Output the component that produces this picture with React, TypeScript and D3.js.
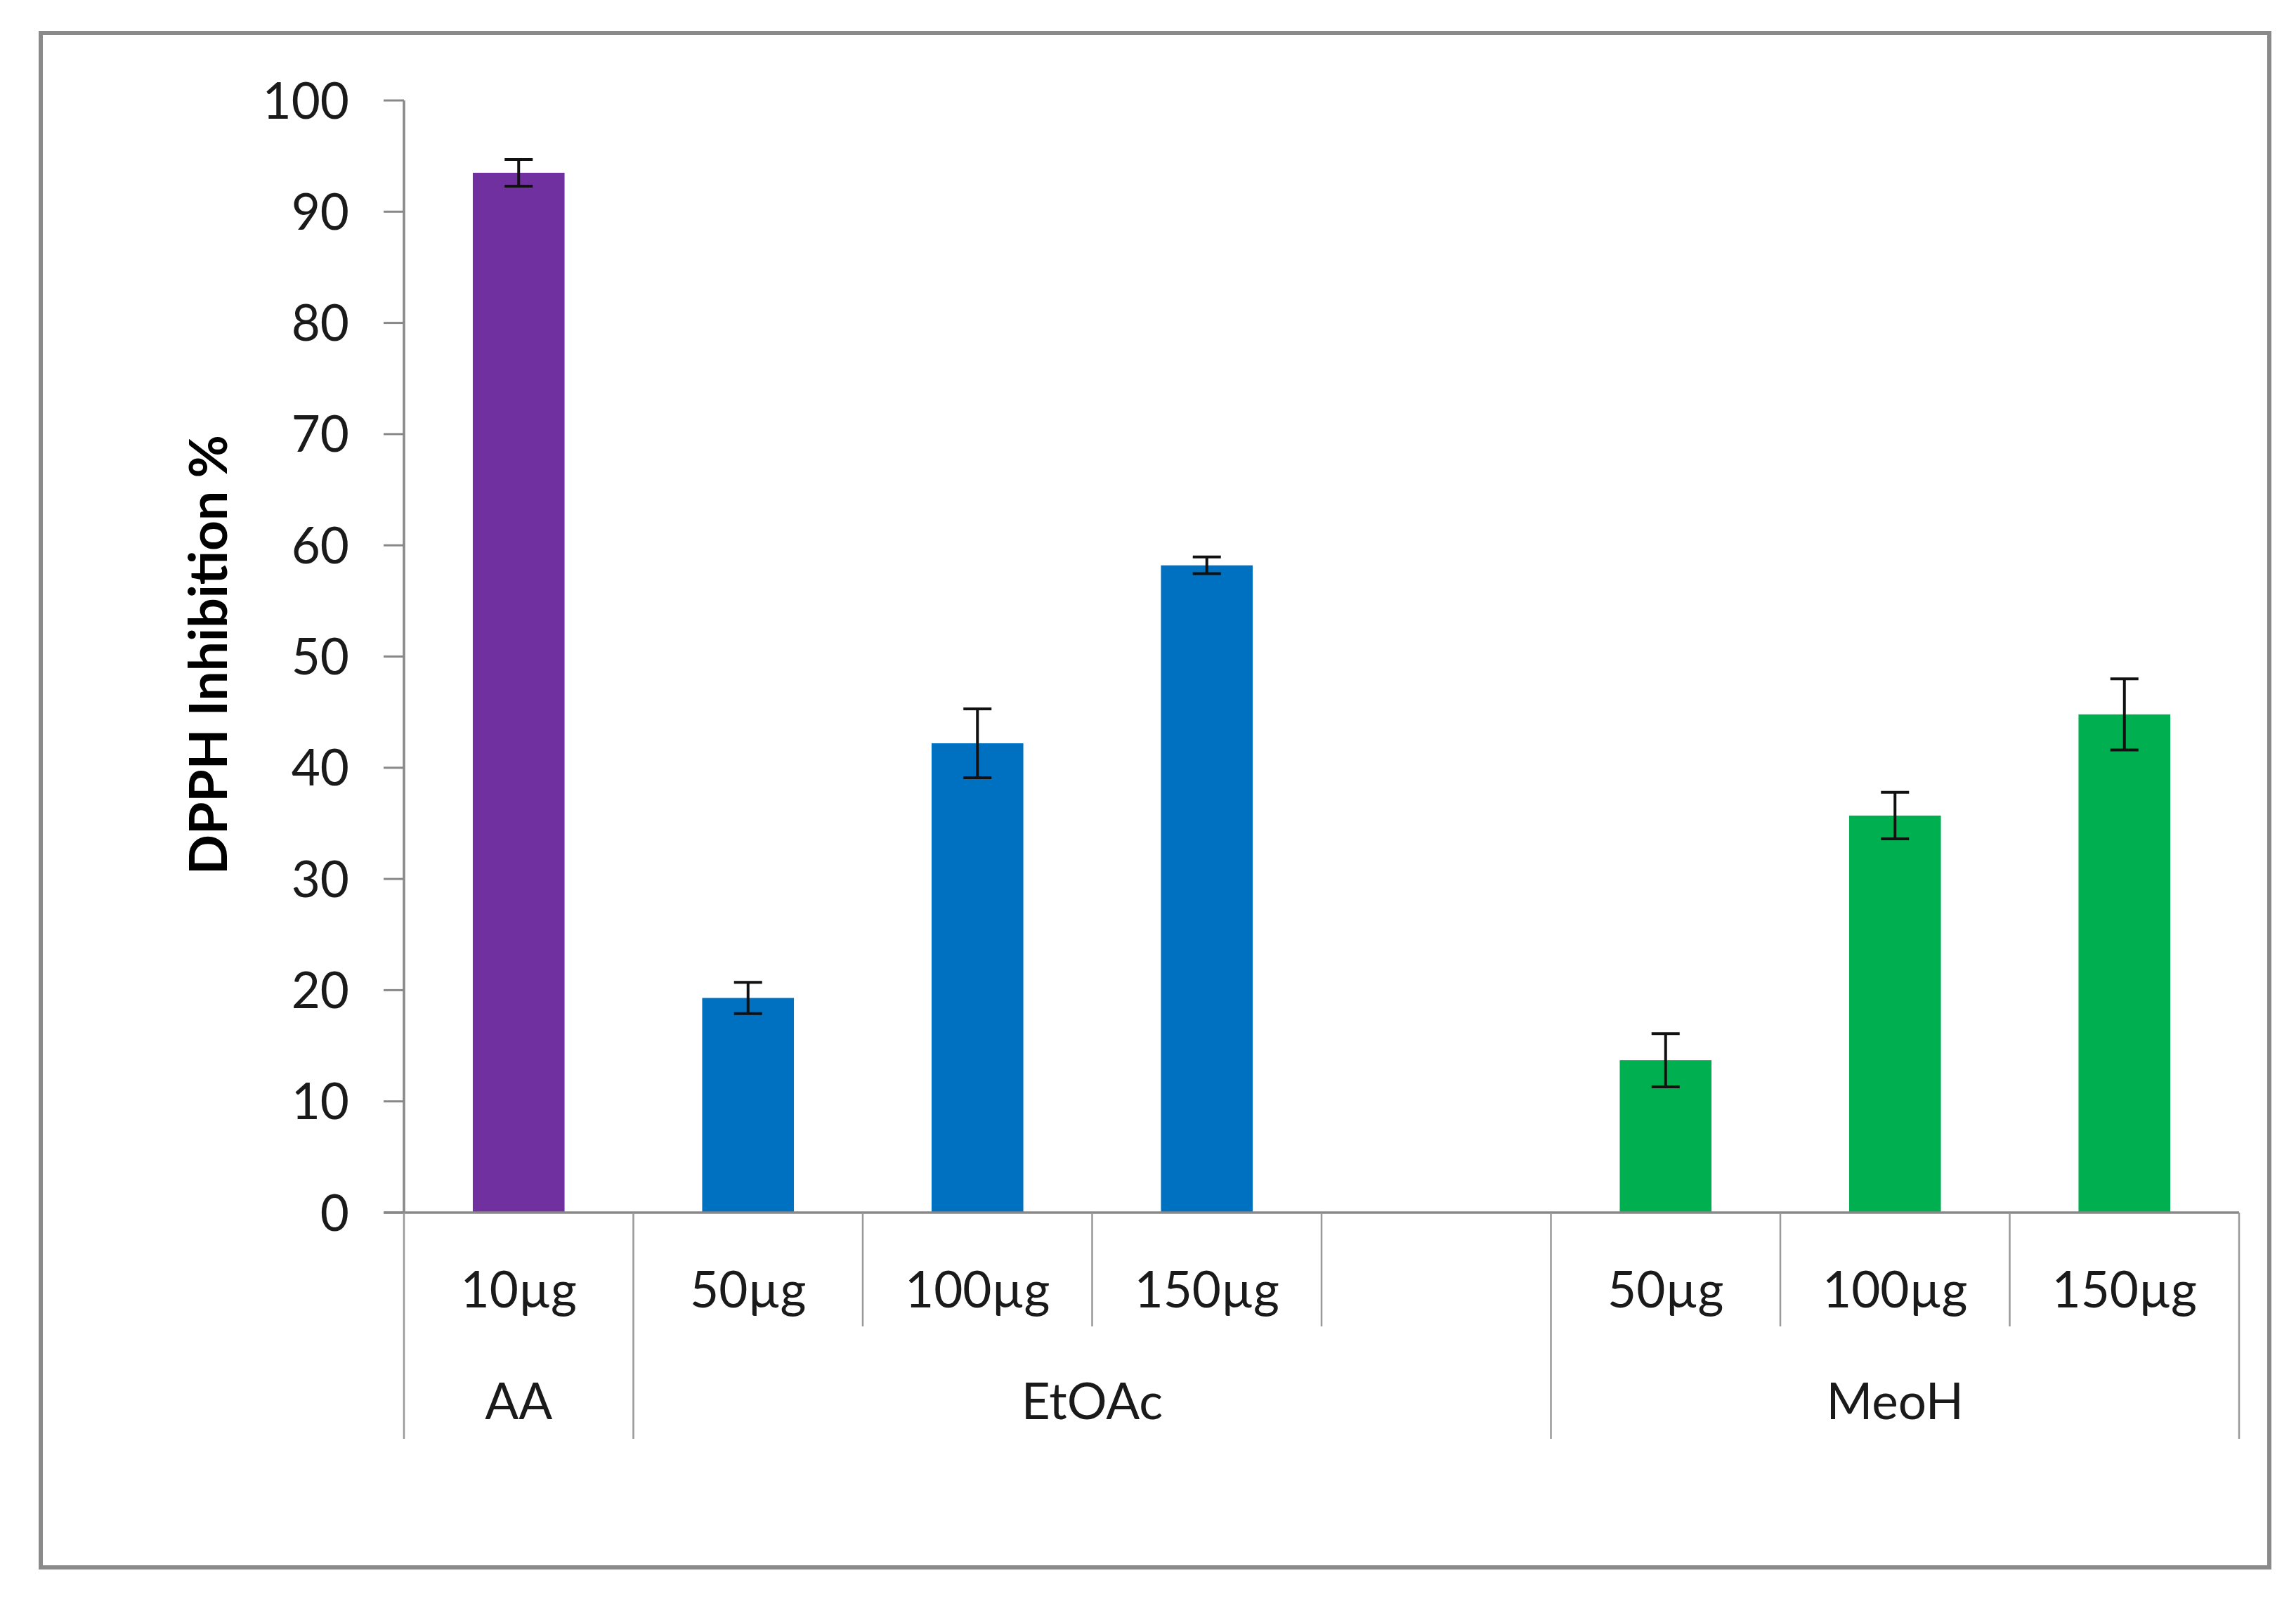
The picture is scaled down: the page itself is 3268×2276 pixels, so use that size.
import React, { useRef, useEffect } from 'react';
import * as d3 from 'd3';

// doses, in chart order (the empty slot keeps the gap after EtOAc)
const doses = ['10µg', '50µg', '100µg', '150µg', '', '50µg', '100µg', '150µg'];
const solvents = ['AA', 'EtOAc', 'EtOAc', 'EtOAc', 'EtOAc', 'MeoH', 'MeoH', 'MeoH'];
const inhibition: (number | null)[] = [93.5, 19.3, 42.2, 58.2, null, 13.7, 35.7, 44.8];
const errors: (number | null)[] = [1.2, 1.4, 3.1, 0.75, null, 2.4, 2.1, 3.2];
const yTicks = [0, 10, 20, 30, 40, 50, 60, 70, 80, 90, 100];

const solventColors: Record<string, string> = {
    AA: '#7030A0',
    EtOAc: '#0070C0',
    MeoH: '#00B050',
};

const W = 3268;
const H = 2276;
const FONT = 'Lato, Carlito, Calibri, sans-serif';

const App: React.FC = () => {
    const ref = useRef<SVGSVGElement | null>(null);

    useEffect(() => {
        const svg = d3.select(ref.current);
        svg.selectAll('*').remove();

        const left = 575;
        const right = 3187;
        const baseY = 1726;
        const topY = 143;

        const x = d3.scaleBand<number>()
            .domain(doses.map((_, i) => i))
            .range([left, right])
            .padding(0);

        const y = d3.scaleLinear().domain([0, 100]).range([baseY, topY]);

        const barW = x.bandwidth() * 0.4;

        svg.append('rect')
            .attr('width', W).attr('height', H).attr('fill', '#fff');

        // outer frame
        svg.append('rect')
            .attr('x', 58).attr('y', 47)
            .attr('width', 3172).attr('height', 2184)
            .attr('fill', 'none')
            .attr('stroke', '#8a8a8a')
            .attr('stroke-width', 6);

        // y axis
        const gy = svg.append('g');
        gy.append('line')
            .attr('x1', left).attr('x2', left)
            .attr('y1', topY).attr('y2', baseY)
            .attr('stroke', '#888').attr('stroke-width', 3.5);

        gy.selectAll('line.tick')
            .data(yTicks)
            .enter()
            .append('line')
            .attr('class', 'tick')
            .attr('x1', left - 29).attr('x2', left)
            .attr('y1', (d) => y(d)).attr('y2', (d) => y(d))
            .attr('stroke', '#888').attr('stroke-width', 3);

        gy.selectAll('text')
            .data(yTicks)
            .enter()
            .append('text')
            .attr('x', 497)
            .attr('y', (d) => y(d))
            .attr('dy', '0.36em')
            .attr('text-anchor', 'end')
            .style('font-family', FONT)
            .style('font-size', '71px')
            .style('fill', '#1a1a1a')
            .text((d) => d);

        svg.append('text')
            .attr('transform', `translate(323, 932) rotate(-90)`)
            .attr('text-anchor', 'middle')
            .style('font-family', FONT)
            .style('font-size', '75px')
            .style('font-weight', 'bold')
            .style('fill', '#000')
            .text('DPPH Inhibition %');

        // bars
        const idx = doses.map((_, i) => i).filter((i) => inhibition[i] !== null);

        svg.append('g')
            .selectAll('rect')
            .data(idx)
            .enter()
            .append('rect')
            .attr('x', (i) => (x(i) as number) + (x.bandwidth() - barW) / 2)
            .attr('y', (i) => y(inhibition[i] as number))
            .attr('width', barW)
            .attr('height', (i) => baseY - y(inhibition[i] as number))
            .attr('fill', (i) => solventColors[solvents[i]]);

        // error bars
        const ge = svg.append('g')
            .attr('stroke', '#111')
            .attr('stroke-width', 4);
        idx.forEach((i) => {
            const cx = (x(i) as number) + x.bandwidth() / 2;
            const v = inhibition[i] as number;
            const e = errors[i] as number;
            ge.append('line')
                .attr('x1', cx).attr('x2', cx)
                .attr('y1', y(v + e)).attr('y2', y(v - e));
            [v + e, v - e].forEach((t) => {
                ge.append('line')
                    .attr('x1', cx - 20).attr('x2', cx + 20)
                    .attr('y1', y(t)).attr('y2', y(t));
            });
        });

        // x axis baseline
        svg.append('line')
            .attr('x1', left - 29).attr('x2', right)
            .attr('y1', baseY).attr('y2', baseY)
            .attr('stroke', '#888').attr('stroke-width', 3.5);

        // category separators: long at solvent boundaries, short between doses
        const bounds = d3.range(doses.length + 1);
        svg.append('g')
            .selectAll('line')
            .data(bounds)
            .enter()
            .append('line')
            .attr('x1', (b) => left + b * x.bandwidth())
            .attr('x2', (b) => left + b * x.bandwidth())
            .attr('y1', baseY)
            .attr('y2', (b) => {
                const isEdge = b === 0 || b === doses.length || solvents[b] !== solvents[b - 1];
                return isEdge ? 2048 : 1888;
            })
            .attr('stroke', '#999')
            .attr('stroke-width', 2.5);

        // dose labels
        svg.append('g')
            .selectAll('text')
            .data(doses.map((_, i) => i))
            .enter()
            .append('text')
            .attr('x', (i) => (x(i) as number) + x.bandwidth() / 2)
            .attr('y', 1861)
            .attr('text-anchor', 'middle')
            .style('font-family', FONT)
            .style('font-size', '71px')
            .style('fill', '#1a1a1a')
            .text((i) => doses[i]);

        // solvent group labels
        const groupNames = Array.from(new Set(solvents));
        svg.append('g')
            .selectAll('text')
            .data(groupNames)
            .enter()
            .append('text')
            .attr('x', (g) => {
                const first = solvents.indexOf(g);
                const last = solvents.lastIndexOf(g);
                return ((x(first) as number) + (x(last) as number) + x.bandwidth()) / 2;
            })
            .attr('y', 2020)
            .attr('text-anchor', 'middle')
            .style('font-family', FONT)
            .style('font-size', '71px')
            .style('fill', '#1a1a1a')
            .text((g) => g);
    }, []);

    return (
        <svg
            ref={ref}
            width={W}
            height={H}
            style={{ position: 'absolute', left: 0, top: 0, display: 'block' }}
        />
    );
};

export default App;
